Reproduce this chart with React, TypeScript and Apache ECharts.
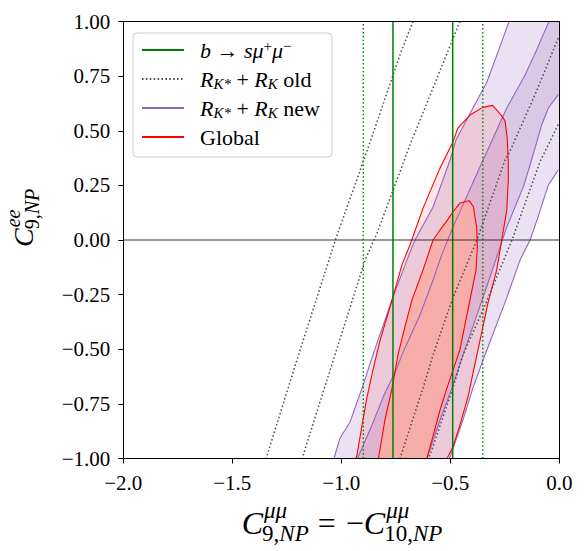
import React, { useEffect, useRef } from 'react';
import * as echarts from 'echarts';

// ---- axes ----
const X_MIN = -2;
const X_MAX = 0;
const X_STEP = 0.5;
const Y_MIN = -1;
const Y_MAX = 1;
const Y_STEP = 0.25;
const xTickLabels = ['−2.0', '−1.5', '−1.0', '−0.5', '0.0'];
const yTickLabels = ['−1.00', '−0.75', '−0.50', '−0.25', '0.00', '0.25', '0.50', '0.75', '1.00'];

// ---- b -> s mu+ mu- : allowed C9 interval (solid 1 sigma, dotted 2 sigma) ----
const bsmumu1s = [-0.763, -0.489];
const bsmumu2s = [-0.899, -0.351];

// ---- R_K* + R_K old : contour lines [C9mumu, C9ee] ----
const oldA = [[-0.671, 1.0], [-0.731, 0.847], [-0.841, 0.526], [-0.905, 0.343], [-1.024, 0.009], [-1.189, -0.503], [-1.345, -1.0]];
const oldB = [[-0.456, 1.0], [-0.685, 0.435], [-0.836, 0.032], [-0.891, -0.092], [-1.180, -1.0]];
const oldC = [[-0.005, 0.924], [-0.104, 0.682], [-0.226, 0.407], [-0.249, 0.366], [-0.378, 0.0], [-0.492, -0.275], [-0.579, -0.526], [-0.625, -0.677], [-0.731, -1.0]];
const oldD = [[-0.005, 0.528], [-0.089, 0.357], [-0.217, 0.0], [-0.336, -0.288], [-0.442, -0.526], [-0.488, -0.677], [-0.593, -0.984], [-0.602, -1.0]];

// ---- R_K* + R_K new : band edges (2 sigma and 1 sigma), top to bottom ----
const new2sLeft = [
  [-0.231, 1.0], [-0.258, 0.924], [-0.332, 0.723], [-0.396, 0.604], [-0.474, 0.458],
  [-0.501, 0.366], [-0.579, 0.151], [-0.662, 0.0], [-0.699, -0.092], [-0.763, -0.261],
  [-0.855, -0.526], [-0.9, -0.664], [-0.96, -0.833], [-1.006, -0.906], [-1.029, -0.984], [-1.033, -1.0],
];
const new2sRight = [
  [-0.005, 0.32], [-0.05, 0.252], [-0.102, 0.092], [-0.134, 0.0], [-0.18, -0.092],
  [-0.245, -0.275], [-0.341, -0.526], [-0.396, -0.677], [-0.442, -0.824], [-0.501, -0.993], [-0.506, -1.0],
];
const new1sLeft = [
  [-0.047, 1.0], [-0.081, 0.924], [-0.104, 0.87], [-0.157, 0.755], [-0.241, 0.604],
  [-0.318, 0.435], [-0.356, 0.352], [-0.488, 0.059], [-0.543, -0.078], [-0.579, -0.183],
  [-0.639, -0.343], [-0.712, -0.503], [-0.749, -0.595], [-0.804, -0.709], [-0.859, -0.847],
  [-0.923, -0.993], [-0.928, -1.0],
];
const new1sRight = [
  [-0.005, 0.665], [-0.05, 0.604], [-0.081, 0.526], [-0.13, 0.357], [-0.165, 0.243],
  [-0.241, 0.059], [-0.287, -0.078], [-0.349, -0.261], [-0.442, -0.526], [-0.492, -0.677],
  [-0.547, -0.824], [-0.602, -0.984], [-0.607, -1.0],
];

// ---- Global fit : 2 sigma and 1 sigma contours (open at the lower axis) ----
const global2s = [
  [-0.933, -1.0], [-0.928, -0.984], [-0.905, -0.847], [-0.882, -0.719], [-0.855, -0.595],
  [-0.822, -0.458], [-0.763, -0.261], [-0.722, -0.114], [-0.685, -0.023], [-0.625, 0.146],
  [-0.547, 0.33], [-0.488, 0.449], [-0.465, 0.513], [-0.41, 0.572], [-0.351, 0.607],
  [-0.306, 0.616], [-0.264, 0.568], [-0.249, 0.545], [-0.239, 0.467], [-0.234, 0.352],
  [-0.234, 0.275], [-0.241, 0.137], [-0.264, 0.0], [-0.287, -0.137], [-0.327, -0.288],
  [-0.378, -0.526], [-0.419, -0.719], [-0.456, -0.847], [-0.488, -0.947], [-0.515, -1.0],
];
const global1s = [
  [-0.829, -1.0], [-0.827, -0.984], [-0.8, -0.824], [-0.767, -0.677], [-0.74, -0.526],
  [-0.712, -0.412], [-0.676, -0.275], [-0.625, -0.137], [-0.579, 0.0], [-0.547, 0.046],
  [-0.52, 0.082], [-0.488, 0.128], [-0.456, 0.169], [-0.413, 0.18], [-0.394, 0.152],
  [-0.379, 0.059], [-0.376, -0.032], [-0.382, -0.137], [-0.41, -0.275], [-0.456, -0.503],
  [-0.515, -0.677], [-0.547, -0.778], [-0.584, -0.915], [-0.607, -1.0],
];

// ---- names / styling ----
const NAME_BSMM = 'b → sμ⁺μ⁻';
const NAME_BSMM_2S = 'b → sμ⁺μ⁻ (2σ)';
const NAME_OLD = 'R_K* + R_K old';
const NAME_NEW = 'R_K* + R_K new';
const NAME_GLOBAL = 'Global';

const SERIF = "'Liberation Serif', 'DejaVu Serif', serif";
const GREEN = '#008000';
const GRAY = '#4a4a4a';
const PURPLE = '#9467bd';
const RED = '#ff0000';
const DOTS = [1.5, 2.4];

const LEGEND_TEXT: Record<string, string> = {
  [NAME_BSMM]: '{gap| }{it|b}{rm| → }{it|sμ}{sup|+}{it|μ}{sup|−}',
  [NAME_OLD]: '{gap| }{it|R}{sub|K*}{rm| + }{it|R}{sub|K}{rm| old}',
  [NAME_NEW]: '{gap| }{it|R}{sub|K*}{rm| + }{it|R}{sub|K}{rm| new}',
  [NAME_GLOBAL]: '{gap| }{rm|Global}',
};

const band = (left: number[][], right: number[][]) => [
  ...left,
  ...right.slice().reverse(),
  [X_MAX, right[0][1]],
  [X_MAX, Y_MAX],
];

const fillSeries = (name: string, pts: number[][], color: string, z: number) => ({
  type: 'custom',
  name,
  silent: true,
  clip: true,
  z,
  data: pts,
  renderItem: (params: any, api: any) => {
    if (params.dataIndex !== 0) return null;
    return {
      type: 'polygon',
      shape: { points: pts.map((p) => api.coord(p)) },
      style: { fill: color, stroke: 'none' },
    };
  },
});

const lineSeries = (name: string, pts: number[][], color: string, width: number, type: any, z: number) => ({
  type: 'line',
  name,
  data: pts,
  symbol: 'none',
  showSymbol: false,
  silent: true,
  clip: true,
  z,
  itemStyle: { color },
  lineStyle: { color, width, type },
});

const vline = (x: number) => [[x, Y_MIN], [x, Y_MAX]];

// ---- math-style axis titles built from text pieces ----
let measureCtx: CanvasRenderingContext2D | null = null;
const measure = (text: string, font: string) => {
  if (!measureCtx) measureCtx = document.createElement('canvas').getContext('2d');
  measureCtx!.font = font;
  return measureCtx!.measureText(text).width;
};
const fontOf = (size: number, italic: boolean) => `${italic ? 'italic ' : ''}${size}px ${SERIF}`;

// pieces: [text, italic]; text elements laid out from x on the given baseline
const run = (pieces: [string, boolean][], x: number, baseline: number, size: number) => {
  const els: any[] = [];
  let cx = x;
  for (const [t, it] of pieces) {
    const font = fontOf(size, it);
    els.push({
      type: 'text',
      silent: true,
      style: {
        text: t,
        x: cx,
        y: baseline - 0.3375 * size,
        font,
        fill: '#000',
        align: 'left',
        verticalAlign: 'middle',
        textAlign: 'left',
        textVerticalAlign: 'middle',
      },
    });
    cx += measure(t, font);
  }
  return { els, end: cx };
};

const buildXTitle = () => {
  const M = 32;
  const S = 23;
  const els: any[] = [];
  const c1 = run([['C', true]], 0, 0, M);
  els.push(...c1.els);
  const sup1 = run([['μμ', true]], c1.end + 1, -16, S);
  const sub1 = run([['9,', false], ['NP', true]], c1.end - 1, 7, S);
  els.push(...sup1.els, ...sub1.els);
  const eq = run([['=', false]], Math.max(sup1.end, sub1.end) + 9, 0, M);
  els.push(...eq.els);
  const rhs = run([['−', false], ['C', true]], eq.end + 10, 0, M);
  els.push(...rhs.els);
  const sup2 = run([['μμ', true]], rhs.end + 1, -16, S);
  const sub2 = run([['10,', false], ['NP', true]], rhs.end - 1, 7, S);
  els.push(...sup2.els, ...sub2.els);
  const width = Math.max(sup2.end, sub2.end);
  return { type: 'group', x: 342 - width / 2, y: 534, children: els };
};

const buildYTitle = () => {
  const M = 28;
  const S = 20;
  const c = run([['C', true]], 0, 0, M);
  const sup = run([['ee', true]], c.end + 1, -13, S);
  const sub = run([['9,', false], ['NP', true]], c.end - 1, 6, S);
  return {
    type: 'group',
    x: 33,
    y: 247,
    rotation: Math.PI / 2,
    children: [...c.els, ...sup.els, ...sub.els],
  };
};

const buildOption = () => {
  const axisLabelStyle = { fontFamily: SERIF, fontSize: 21, color: '#000' };
  return {
    animation: false,
    backgroundColor: '#ffffff',
    grid: { left: 123.3, top: 21.5, width: 436, height: 437, containLabel: false },
    legend: {
      data: [NAME_BSMM, NAME_OLD, NAME_NEW, NAME_GLOBAL],
      orient: 'vertical',
      left: 133,
      top: 33,
      padding: [5, 12, 8, 8],
      itemWidth: 42,
      itemHeight: 12,
      itemGap: 5,
      selectedMode: false,
      backgroundColor: 'rgba(255,255,255,0.8)',
      borderColor: '#cccccc',
      borderWidth: 1,
      borderRadius: 4,
      itemStyle: { opacity: 0, color: 'rgba(0,0,0,0)', borderWidth: 0 },
      formatter: (name: string) => LEGEND_TEXT[name] || name,
      textStyle: {
        fontFamily: SERIF,
        fontSize: 22,
        color: '#000',
        lineHeight: 24,
        rich: {
          gap: { width: 11 },
          it: { fontFamily: SERIF, fontStyle: 'italic', fontSize: 22, lineHeight: 24, color: '#000' },
          rm: { fontFamily: SERIF, fontSize: 22, lineHeight: 24, color: '#000' },
          sub: { fontFamily: SERIF, fontStyle: 'italic', fontSize: 15, lineHeight: 15, verticalAlign: 'bottom', color: '#000' },
          sup: { fontFamily: SERIF, fontSize: 15, lineHeight: 15, verticalAlign: 'top', color: '#000' },
        },
      },
    },
    xAxis: [
      {
        type: 'value',
        min: X_MIN,
        max: X_MAX,
        interval: X_STEP,
        z: 10,
        axisLine: { show: true, onZero: false, lineStyle: { color: '#000', width: 1 } },
        axisTick: { show: true, inside: false, length: 5, lineStyle: { color: '#000', width: 1 } },
        splitLine: { show: false },
        axisLabel: {
          ...axisLabelStyle,
          margin: 14,
          formatter: (v: number) => xTickLabels[Math.round((v - X_MIN) / X_STEP)] ?? '',
        },
      },
      {
        type: 'value',
        position: 'top',
        min: X_MIN,
        max: X_MAX,
        z: 10,
        axisLine: { show: true, onZero: false, lineStyle: { color: '#000', width: 1 } },
        axisTick: { show: false },
        axisLabel: { show: false },
        splitLine: { show: false },
      },
    ],
    yAxis: [
      {
        type: 'value',
        min: Y_MIN,
        max: Y_MAX,
        interval: Y_STEP,
        z: 10,
        axisLine: { show: true, onZero: false, lineStyle: { color: '#000', width: 1 } },
        axisTick: { show: true, inside: false, length: 5, lineStyle: { color: '#000', width: 1 } },
        splitLine: { show: false },
        axisLabel: {
          ...axisLabelStyle,
          margin: 13,
          formatter: (v: number) => yTickLabels[Math.round((v - Y_MIN) / Y_STEP)] ?? '',
        },
      },
      {
        type: 'value',
        position: 'right',
        min: Y_MIN,
        max: Y_MAX,
        z: 10,
        axisLine: { show: true, onZero: false, lineStyle: { color: '#000', width: 1 } },
        axisTick: { show: false },
        axisLabel: { show: false },
        splitLine: { show: false },
      },
    ],
    graphic: [buildXTitle(), buildYTitle()],
    series: [
      // shaded regions
      fillSeries('new 2σ band', band(new2sLeft, new2sRight), 'rgba(148,103,189,0.2)', 1),
      fillSeries('new 1σ band', band(new1sLeft, new1sRight), 'rgba(148,103,189,0.2)', 1),
      fillSeries('global 2σ region', global2s, 'rgba(255,0,0,0.1)', 1),
      fillSeries('global 1σ region', global1s, 'rgba(250,172,162,0.85)', 1),
      // contour edges
      lineSeries(NAME_NEW, new2sLeft, PURPLE, 1.1, 'solid', 2),
      lineSeries(NAME_NEW, new2sRight, PURPLE, 1.1, 'solid', 2),
      lineSeries(NAME_NEW, new1sLeft, PURPLE, 1.1, 'solid', 2),
      lineSeries(NAME_NEW, new1sRight, PURPLE, 1.1, 'solid', 2),
      lineSeries(NAME_GLOBAL, global2s, RED, 1.1, 'solid', 3),
      lineSeries(NAME_GLOBAL, global1s, RED, 1.1, 'solid', 3),
      lineSeries(NAME_OLD, oldA, GRAY, 1.5, DOTS, 4),
      lineSeries(NAME_OLD, oldB, GRAY, 1.5, DOTS, 4),
      lineSeries(NAME_OLD, oldC, GRAY, 1.5, DOTS, 4),
      lineSeries(NAME_OLD, oldD, GRAY, 1.5, DOTS, 4),
      // b -> s mu mu band
      lineSeries(NAME_BSMM, vline(bsmumu1s[0]), GREEN, 1.5, 'solid', 5),
      lineSeries(NAME_BSMM, vline(bsmumu1s[1]), GREEN, 1.5, 'solid', 5),
      lineSeries(NAME_BSMM_2S, vline(bsmumu2s[0]), GREEN, 1.4, DOTS, 5),
      lineSeries(NAME_BSMM_2S, vline(bsmumu2s[1]), GREEN, 1.4, DOTS, 5),
      // zero line
      lineSeries('zero', [[X_MIN, 0], [X_MAX, 0]], '#333333', 1, 'solid', 6),
    ],
  };
};

export default function App() {
  const ref = useRef<HTMLDivElement>(null);
  useEffect(() => {
    if (!ref.current) return;
    const chart = echarts.init(ref.current, null, { renderer: 'svg' });
    chart.setOption(buildOption() as any);
    return () => chart.dispose();
  }, []);
  return (
    <div
      ref={ref}
      style={{ position: 'fixed', left: 0, top: 0, width: 588, height: 551, background: '#fff' }}
    />
  );
}
